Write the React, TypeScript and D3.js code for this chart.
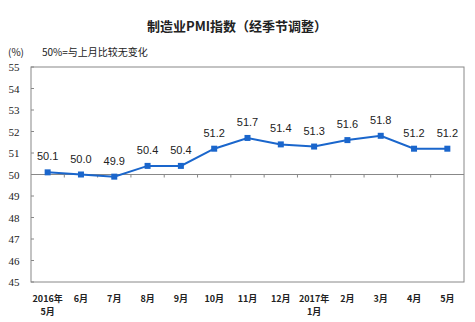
import React from "react";
import * as d3 from "d3";

const categories = ["2016年|5月", "6月", "7月", "8月", "9月", "10月", "11月", "12月", "2017年|1月", "2月", "3月", "4月", "5月"];
const values = [50.1, 50.0, 49.9, 50.4, 50.4, 51.2, 51.7, 51.4, 51.3, 51.6, 51.8, 51.2, 51.2];
const yTicks = [45, 46, 47, 48, 49, 50, 51, 52, 53, 54, 55];
const title = "制造业PMI指数（经季节调整）";
const unit = "(%)";
const note = "50%=与上月比较无变化";

export default function App() {
  const W = 475, H = 322;
  const left = 31, right = 464, top = 67, bottom = 282;
  const x = d3.scaleBand<string>().domain(categories).range([left, right]).padding(0);
  const y = d3.scaleLinear().domain([45, 55]).range([bottom, top]);
  const cx = (c: string) => (x(c) as number) + x.bandwidth() / 2;
  const line = d3.line<number>().x((_, i) => cx(categories[i])).y((v) => y(v));
  const y50 = y(50);
  const cjk = "'Noto Sans CJK SC', sans-serif";
  return (
    <svg width={W} height={H} style={{ position: "absolute", left: 0, top: 0, background: "#fff" }}>
      <text x={237} y={31} textAnchor="middle" fontFamily={cjk} fontSize={13} fontWeight="bold" fill="#222">{title}</text>
      <text x={8} y={56} fontFamily={cjk} fontSize={10} fill="#222">{unit}</text>
      <text x={42} y={56} fontFamily={cjk} fontSize={10} fill="#222">{note}</text>
      <rect x={left} y={top} width={right - left} height={bottom - top} fill="none" stroke="#888" strokeWidth={1} />
      <line x1={left} x2={right} y1={y50} y2={y50} stroke="#888" strokeWidth={1} />
      {yTicks.map((t) => (
        <g key={t}>
          <line x1={left} x2={left + 3} y1={y(t)} y2={y(t)} stroke="#888" />
          <text x={14} y={y(t) + 4} textAnchor="middle" fontFamily="'Liberation Serif', serif" fontSize={11} fill="#222">{t}</text>
        </g>
      ))}
      {categories.slice(1).map((c) => (
        <line key={c} x1={x(c) as number} x2={x(c) as number} y1={y50} y2={y50 + 3} stroke="#888" />
      ))}
      {categories.map((c) => {
        const parts = c.split("|");
        return (
          <g key={c}>
            <text x={cx(c)} y={302} textAnchor="middle" fontFamily={cjk} fontSize={9} fontWeight="bold" fill="#222">{parts[0]}</text>
            {parts[1] && (
              <text x={cx(c)} y={315} textAnchor="middle" fontFamily={cjk} fontSize={9} fontWeight="bold" fill="#222">{parts[1]}</text>
            )}
          </g>
        );
      })}
      <path d={line(values) || ""} fill="none" stroke="#1a66cc" strokeWidth={2} />
      {values.map((v, i) => (
        <rect key={i} x={cx(categories[i]) - 3} y={y(v) - 3} width={6} height={6} fill="#1a66cc" />
      ))}
      {values.map((v, i) => (
        <text key={i} x={cx(categories[i])} y={y(v) - 12} textAnchor="middle" fontFamily="'Liberation Sans', Arial, sans-serif" fontSize={11} fill="#222">{v.toFixed(1)}</text>
      ))}
    </svg>
  );
}
